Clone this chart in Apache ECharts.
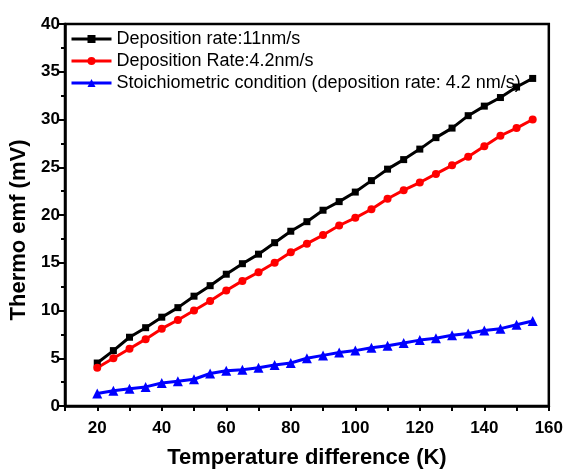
<!DOCTYPE html>
<html><head><meta charset="utf-8">
<script src="https://cdn.jsdelivr.net/npm/echarts@6/dist/echarts.min.js"></script>
<style>html,body{margin:0;padding:0;background:#fff}#c{width:566px;height:474px}</style>
</head><body><div id="c"></div>
<script>
const xValues = [20,25,30,35,40,45,50,55,60,65,70,75,80,85,90,95,100,105,110,115,120,125,130,135,140,145,150,155];
const black11 = [4.5,5.8,7.2,8.2,9.3,10.3,11.5,12.6,13.8,14.9,15.9,17.1,18.3,19.3,20.5,21.4,22.4,23.6,24.8,25.8,26.9,28.1,29.1,30.4,31.4,32.3,33.4,34.3];
const red42 = [4.0,5.0,6.0,7.0,8.1,9.0,10.0,11.0,12.1,13.1,14.0,15.0,16.1,17.0,17.9,18.9,19.7,20.6,21.7,22.6,23.4,24.3,25.2,26.1,27.2,28.3,29.1,30.0];
const blueStoich = [1.3,1.6,1.8,2.0,2.4,2.6,2.8,3.4,3.7,3.8,4.0,4.3,4.5,5.0,5.3,5.6,5.8,6.1,6.3,6.6,6.9,7.1,7.4,7.6,7.9,8.1,8.5,8.9];
const seriesNames = ['Deposition rate:11nm/s','Deposition Rate:4.2nm/s','Stoichiometric condition (deposition rate: 4.2 nm/s)'];
const xTitle = 'Temperature difference (K)';
const yTitle = 'Thermo emf (mV)';

const pair = arr => xValues.map((x,i)=>[x,arr[i]]);
const chart = echarts.init(document.getElementById('c'));
const F = 'Liberation Sans, Arial, sans-serif';
chart.setOption({
  animation:false,
  backgroundColor:'#fff',
  grid:{left:65,right:17,top:24,bottom:63,show:true,borderColor:'#000',borderWidth:2.5},
  legend:{
    left:65, top:25, orient:'vertical', itemGap:4, itemWidth:40, itemHeight:10,
    lineStyle:{width:3},
    textStyle:{fontFamily:F,fontSize:18,color:'#000'},
    data:seriesNames
  },
  xAxis:{
    type:'value', min:10, max:160, interval:10,
    name:xTitle, nameLocation:'middle', nameGap:41,
    nameTextStyle:{fontFamily:F,fontSize:22,fontWeight:'bold',color:'#000'},
    axisLine:{lineStyle:{color:'#000',width:2.5}},
    axisTick:{show:true,length:5,lineStyle:{width:2,color:'#000'}},
    axisLabel:{fontFamily:F,fontSize:17,fontWeight:'bold',color:'#000',margin:14,
      formatter:v=> (v%20===0 ? String(v) : '')},
    splitLine:{show:false}
  },
  yAxis:{
    type:'value', min:0, max:40, interval:5,
    name:yTitle, nameLocation:'middle', nameGap:30,
    nameTextStyle:{fontFamily:F,fontSize:22,fontWeight:'bold',color:'#000',padding:[0,30,0,0]},
    axisLine:{show:true,lineStyle:{color:'#000',width:2.5}},
    axisTick:{show:true,length:6,lineStyle:{width:2,color:'#000'}},
    minorTick:{show:true,splitNumber:2,length:4,lineStyle:{width:2,color:'#000'}},
    axisLabel:{fontFamily:F,fontSize:17,fontWeight:'bold',color:'#000',margin:5},
    splitLine:{show:false}
  },
  series:[
    {name:seriesNames[0],type:'line',data:pair(black11),symbol:'rect',symbolSize:7,
     lineStyle:{color:'#000',width:3},itemStyle:{color:'#000'}},
    {name:seriesNames[1],type:'line',data:pair(red42),symbol:'circle',symbolSize:8,
     lineStyle:{color:'#ff0000',width:3},itemStyle:{color:'#ff0000'}},
    {name:seriesNames[2],type:'line',data:pair(blueStoich),symbol:'triangle',symbolSize:10,
     lineStyle:{color:'#0000ff',width:3},itemStyle:{color:'#0000ff'}}
  ]
});
</script></body></html>
